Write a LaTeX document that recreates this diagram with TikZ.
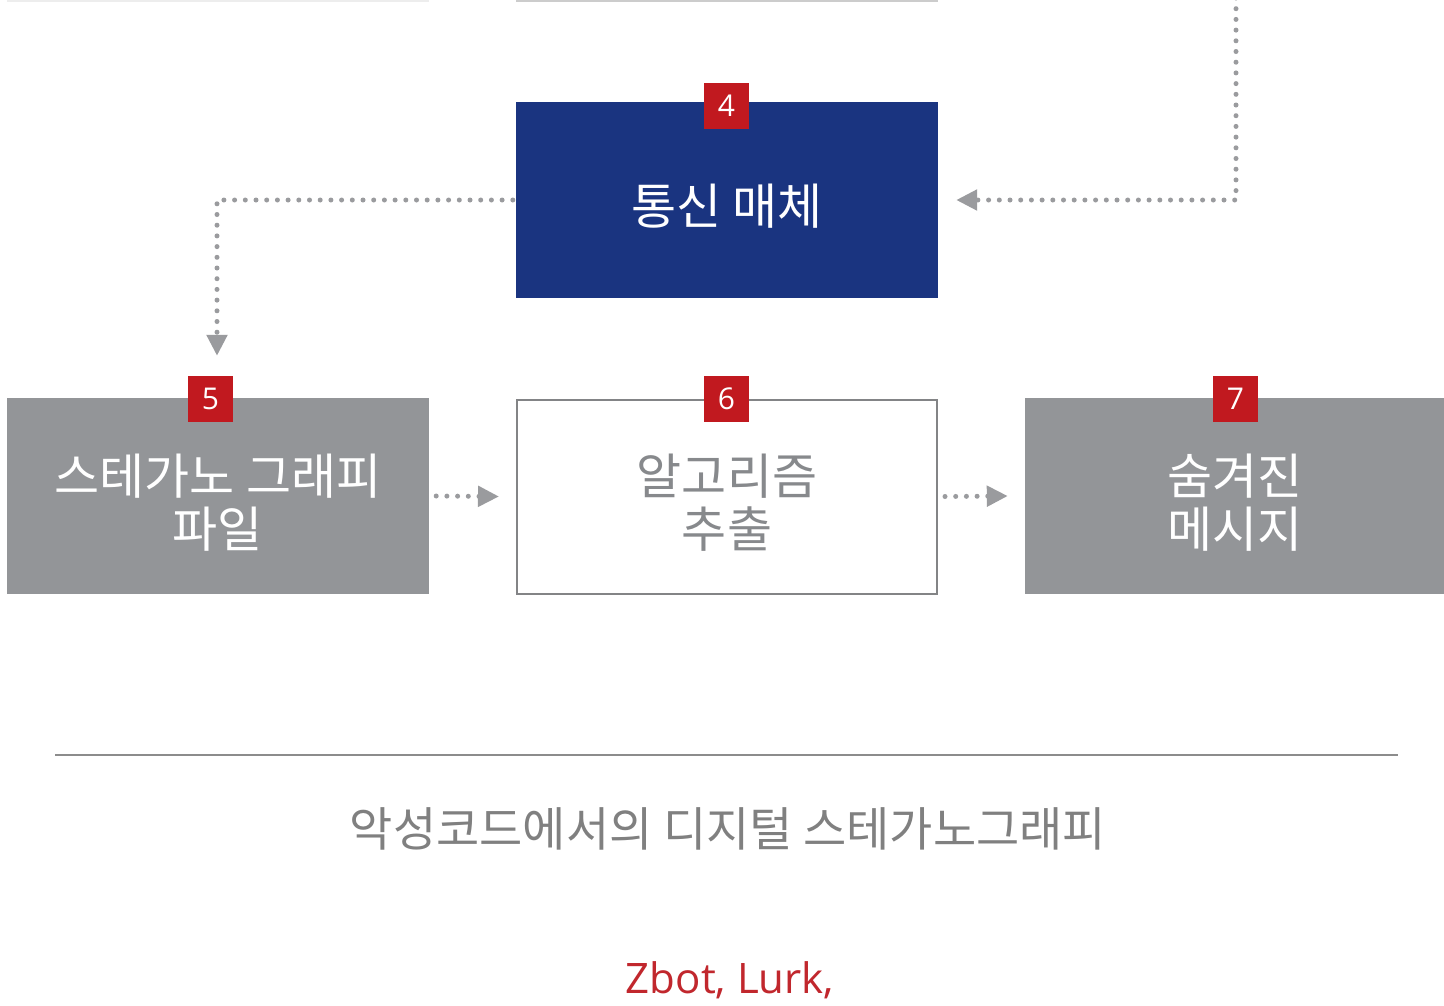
\documentclass[tikz,border=0pt]{standalone}
\usepackage{fontspec}
\setmainfont{Open Sans}
\newfontfamily\kr{Noto Sans CJK KR}
\usetikzlibrary{arrows.meta}
\definecolor{navy}{HTML}{1A3480}
\definecolor{boxgrey}{HTML}{939598}
\definecolor{badgered}{HTML}{C1191F}
\definecolor{dotgrey}{HTML}{9A9B9E}
\definecolor{txtgrey}{HTML}{808080}
\definecolor{zred}{HTML}{C1272D}
\tikzset{
  x=1pt, y=-1pt,
  bigbox/.style={minimum width=422pt, minimum height=196pt, inner sep=0pt, draw=none},
  boxtext/.style={font=\kr\fontsize{49}{53}\selectfont, align=center, text=white, inner sep=0pt},
  badge/.style={fill=badgered, minimum width=45pt, minimum height=46pt, inner sep=0pt, text=white, font=\fontsize{30}{32}\selectfont},
  dotline/.style={draw=dotgrey, line width=5pt, line cap=round, dash pattern=on 0pt off 10.7pt, -{Triangle[length=21pt,width=20pt,fill=dotgrey]}}
}
\begin{document}
\begin{tikzpicture}
\useasboundingbox (0,0) rectangle (1444,1005);
\fill[white] (0,0) rectangle (1444,1005);
% cut-off box edges at top
\draw[line width=2pt, draw=black!7] (7,0.5) -- (429,0.5);
\draw[line width=2pt, draw=black!20] (516,0.5) -- (938,0.5);
% boxes
\node[bigbox, fill=navy] (b4) at (727,200) {};
\node[bigbox, fill=boxgrey] (b5) at (218,496) {};
\node[bigbox, draw=dotgrey!85!black, line width=2pt, minimum width=420pt, minimum height=194pt] (b6) at (727,496.5) {};
\node[bigbox, fill=boxgrey, minimum width=419pt] (b7) at (1234.5,496) {};
% box texts
\node[boxtext] (t4) at (727,206) {통신 매체};
\node[boxtext] (t5) at (218,503) {스테가노 그래피\\파일};
\node[boxtext, text=boxgrey!92!black] (t6) at (727,503) {알고리즘\\추출};
\node[boxtext] (t7) at (1235,503) {숨겨진\\메시지};
% badges
\node[badge] (n4) at (726.5,106) {4};
\node[badge] (n5) at (210.5,399) {5};
\node[badge] (n6) at (726.5,399) {6};
\node[badge] (n7) at (1235.5,399) {7};
% connectors
\coordinate (top) at (1236,-2);
\draw[dotline] ([xshift=-3pt]b4.west) -| ([xshift=-1pt,yshift=42pt]b5.north);
\draw[dotline] (top) |- ([xshift=18pt]b4.east);
\draw[dotline] ([xshift=7pt]b5.east) -- ([xshift=-17pt]b6.west);
\draw[dotline] ([xshift=7pt]b6.east) -- ([xshift=-17pt]b7.west);
% separator and captions
\coordinate (sepL) at (55,755);
\coordinate (sepR) at (1398,755);
\draw[line width=2pt, draw=black!45] (sepL) -- (sepR);
\node[text=txtgrey, font=\kr\fontsize{47}{50}\selectfont, inner sep=0pt] (title) at (728,829) {악성코드에서의 디지털 스테가노그래피};
\node[text=zred, font=\fontsize{42}{50}\selectfont, inner sep=0pt, anchor=base] (zbot) at (730,993) {Zbot, Lurk,};
\end{tikzpicture}
\end{document}
